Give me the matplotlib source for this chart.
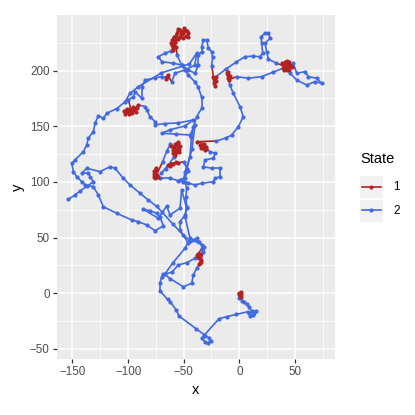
import matplotlib
matplotlib.use("Agg")
import matplotlib.pyplot as plt
from matplotlib.collections import LineCollection
from matplotlib.lines import Line2D
from matplotlib.patches import Rectangle

plt.rcParams['font.family'] = ['Liberation Sans', 'DejaVu Sans']

# Track, split into legs of constant state.
leg_state = [1, 2, 1, 2, 1, 2, 1, 2, 1, 2, 1, 2, 1, 2, 1, 2, 1, 2, 1, 2,
             1, 2, 1, 2, 1, 2, 1, 2]

leg_x = [
    [0, 1.5, 0.5, 1.8, 0.8, -0.5, 1.2],
    [0, 2.5, 4.5, 6.5, 8.7, 11, 14.7, 13, 12, 10, 9, 8, -3, -11.3, -18.2, -31.4, -33.8, -31,
     -28.4, -25.7, -27, -30.5, -38.9, -54.2, -56.6, -62.3, -64.5, -71.3, -71.3, -69.7, -68.3,
     -60.7, -54.8, -47.3, -39.8],
    [-37.5, -36, -38, -35.5, -36.8, -37],
    [-33.8, -33.8, -36, -38.3, -41.3, -45.8, -53.3, -53.3, -48.8, -47.3, -47.9, -47.3, -48.8,
     -54.8, -62.3, -71.3],
    [-74, -76.5, -75, -77, -73.5, -75.5, -76.8, -74.5, -75.8],
    [-69, -65, -62],
    [-59, -56, -54, -57, -60, -55, -58, -56, -61, -53, -57.5, -59.5, -55.5, -54.5, -58.5],
    [-59, -66, -70],
    [-63.8, -62, -60, -57, -54.8, -61.5],
    [-50, -46, -49, -53.3, -46, -39.8, -33.8, -23.4, -21.8, -17.3, -17.3, -24.8, -32.3, -30.8,
     -23.4, -21.8, -26.3],
    [-30, -32.5, -34.5, -31, -33, -35.5, -29.5, -32, -38.3],
    [-20.5, -12, -6.8, -0.9, 3.6, 0.6, -5.4, -8.5],
    [-9.9, -10.5, -9.9, -8.5, -11, -9.2],
    [-2.3, 8.1, 20.1, 30],
    [39.5, 42, 44, 41, 45, 43, 46, 40, 38.5, 42.5, 44.5, 40.5, 47],
    [48.5, 51.6, 59, 62, 69.5, 74, 68, 60.6, 51.6, 45.6],
    [41.5],
    [33, 26.1, 24.6, 23.1, 27.6, 26.1, 23.1, 19.5, 20.1, 21, 18.6, 12, 5.1, -3, -12],
    [-21, -23.4, -21.8, -22.5, -20.5, -22, -23],
    [-24.8, -24, -24.8, -27.8, -29.3, -32.3, -33.8, -33.8, -36.8, -36.8, -39.8, -45.8, -51.8,
     -59.2, -69.7, -72.7, -66.8, -61],
    [-59.2, -60.7, -60.7, -58, -56.2, -53.3, -50.5, -48.8, -46.5, -45.8, -48, -50.3, -53,
     -57.8, -59.5, -61, -59, -57, -55, -52, -49.5, -47, -51.5, -55.5, -58.5, -60, -56.8],
    [-56, -51.8, -45.8, -40, -36.8, -33.8, -33.8, -38.3, -41.3, -43, -44.3, -48.8, -50.3, -47,
     -42.5, -39.8, -44.3, -57, -69.7, -62, -48.8, -41.3, -55, -66.8, -75.7, -75.7, -80.3, -83.2,
     -84.6],
    [-90.7, -95, -100, -103, -98, -93, -97, -101, -104, -99, -95.5, -92, -102, -96.5],
    [-99.7, -95.2, -93.7, -87.7, -87.7, -84.6, -76, -69.7],
    [-65.2, -66, -64.5],
    [-60.7, -57.8, -48.8, -40, -38.3, -45, -70, -90.7, -98.2, -102.7, -110, -119.1, -122.2,
     -126.7, -129.6, -131.2, -135.7, -137.1, -140.2, -147.6, -150.6, -149.1, -146.1, -141.6,
     -138.6, -131.2, -126.7, -122.2, -110.2, -96.7, -90.7, -83.2, -75.7, -68.3, -71.3, -74.2,
     -80.2, -86.3, -72.7, -65.2, -62.3, -53.3, -51.8, -47.3, -48.8, -44.3, -48.8, -60, -67,
     -62, -50.3, -42.8, -41.3, -38.3],
    [-35.3, -34, -36, -34.8],
    [-32.3, -31.4, -38.3, -44, -50.3, -60, -69.7, -74.2, -81.8, -89.2, -98.2, -104.2, -111.7,
     -116.2, -125.2, -137.1, -141.6, -135.7, -134.1, -131.2, -137, -143, -148, -153.6],
]

leg_y = [
    [0, -1, -2.5, -3, -1.8, -0.8, 0.8],
    [-4.5, -6.5, -8.1, -10, -12, -15.9, -15.9, -17.5, -19.5, -20.4, -18, -16.5, -19, -21, -22.8,
     -37.5, -40.4, -43.5, -44.9, -42.6, -40, -38, -31.8, -20.4, -15, -7.5, -5.5, 2.3, 9, 14.9,
     17.1, 18.9, 25.4, 27.5, 31.4],
    [33.5, 31.5, 34.5, 35, 32.5, 35.5],
    [40, 43.4, 46.5, 49.4, 47.9, 44.9, 56.9, 64.3, 70.4, 77.8, 86.8, 94.3, 100.3, 101.2, 103.3,
     103.3],
    [106, 110, 112.5, 104.5, 104.5, 108, 107, 111, 103.5],
    [118, 128, 134],
    [131, 133, 130, 127, 129, 135, 134, 128.5, 132, 132.5, 124.5, 126, 136, 127, 130.5],
    [122, 112, 108],
    [115, 114, 116, 117.5, 117, 116.5],
    [118, 110, 104, 101.8, 99, 97.3, 98.8, 100.3, 103.3, 104.8, 112.3, 112.3, 113.7, 119.8,
     121.3, 125.8, 127.2],
    [130, 133, 130.5, 128.5, 131.5, 133.5, 131.5, 134.5, 136.2],
    [136.8, 139.5, 142.2, 149.7, 158.7, 167.7, 179.7, 187],
    [193.2, 196, 199.1, 195.5, 197.5, 192],
    [194.6, 193.2, 194.6, 198.5],
    [202.2, 205, 203, 207, 208, 201, 205.5, 204.5, 206.5, 209, 200.5, 200.5, 203],
    [206.6, 197.7, 199.1, 194.6, 193.2, 188.7, 190.1, 187.1, 191.6, 197.7],
    [203.5],
    [207, 210.2, 217, 224.6, 229.1, 233.6, 233.6, 230.5, 224.6, 216, 212.6, 213, 212.6, 207.5,
     201.5],
    [194.5, 194.6, 191.6, 188.5, 190.5, 186.5, 192.5],
    [204.6, 212, 217, 220.1, 227.6, 227.6, 221.6, 217, 214.1, 205.1, 197.7, 200.6, 205.1, 206.6,
     208.1, 212.6, 215.6, 218],
    [220.1, 223, 227.6, 226, 233.6, 236.6, 234, 236.6, 234, 230.5, 231, 229.1, 230, 226.1, 222,
     225, 230.5, 231.5, 237.5, 233, 238, 236, 232.5, 228.5, 224, 219, 221],
    [214, 205, 196, 190, 185, 176, 166.2, 158.7, 149.7, 140, 122.7, 109.3, 100.3, 112, 130,
     151.2, 142.2, 143, 143.8, 147, 150.3, 155.7, 153, 152.5, 151.2, 154.2, 158.7, 164.7, 167.7],
    [169.2, 165, 163, 161.5, 166, 163, 164.5, 165.5, 163.5, 161, 167, 166.5, 164, 162],
    [173.7, 176.6, 181.1, 175.2, 185.6, 191.6, 193.5, 194.6],
    [194.6, 192.5, 196],
    [190.1, 197.7, 200.6, 205, 215.6, 206, 198, 185.6, 179.7, 172.1, 166, 161.7, 157.2, 159.5,
     152.7, 145.2, 139.3, 133.2, 127.2, 119.8, 116.8, 109.3, 104.8, 100.3, 97.3, 95.8, 88.3,
     77.8, 71.9, 65.9, 64.3, 61.4, 56.2, 60.5, 68.8, 71.9, 74.2, 75.5, 67.4, 78.4, 70.4, 76.4,
     92.8, 76.4, 68.8, 49.4, 40.4, 27, 17, 13, 5.9, 9, 16.4, 22.5],
    [27, 29.5, 26, 28.5],
    [37.4, 41.9, 47, 47, 52.4, 62.5, 73.3, 78, 83.8, 89.8, 97.3, 103.3, 112.3, 113.7, 109.3,
     112.3, 107.8, 107.8, 104.8, 100.3, 96, 92, 88, 84.5],
]

state_colors = {1: '#B22222', 2: '#4169E1'}
state_labels = ['1', '2']

xs, ys, st = [], [], []
for lx, ly, s in zip(leg_x, leg_y, leg_state):
    xs += lx
    ys += ly
    st += [s] * len(lx)

W = 415.0


def fx(px):
    return px / W


def fy(py):
    return 1 - py / W


fig = plt.figure(figsize=(4.15, 4.15), dpi=100)
ax = fig.add_axes([fx(56.7), fy(359.3), (335 - 56.7) / W, (359.3 - 15) / W])
ax.set_facecolor('#EBEBEB')

# segments take the colour of their starting point
segs = [[(xs[i], ys[i]), (xs[i + 1], ys[i + 1])] for i in range(len(xs) - 1)]
seg_cols = [state_colors[s] for s in st[:-1]]
ax.add_collection(LineCollection(segs, colors=seg_cols, linewidths=1.2, zorder=3))

for s in [2, 1]:
    px = [x for x, k in zip(xs, st) if k == s]
    py = [y for y, k in zip(ys, st) if k == s]
    ax.plot(px, py, 'o', color=state_colors[s], ms=3.0, mew=0, zorder=4)

ax.set_xlim(-164.1, 86.0)
ax.set_ylim(-59.3, 250.0)
ax.set_xticks([-150, -100, -50, 0, 50])
ax.set_yticks([-50, 0, 50, 100, 150, 200])
ax.set_xticks([-125, -75, -25, 25, 75], minor=True)
ax.set_yticks([-25, 25, 75, 125, 175, 225], minor=True)
ax.grid(which='major', color='white', lw=1.1)
ax.grid(which='minor', color='white', lw=0.55)
ax.set_axisbelow(True)
for sp in ax.spines.values():
    sp.set_visible(False)
ax.tick_params(which='major', direction='out', length=2.7, width=0.9, color='#333333',
               labelcolor='#4D4D4D', labelsize=8.4, pad=2.4)
ax.tick_params(which='minor', length=0)
ax.set_xlabel('x', fontsize=10.5, color='black', labelpad=3)
ax.set_ylabel('y', fontsize=10.5, color='black', labelpad=3.5)

# legend
fig.text(fx(360), fy(159), 'State', fontsize=10.5, ha='left', va='center')
for i, s in enumerate([1, 2]):
    top = 176 + i * 23.5
    fig.add_artist(Rectangle((fx(360), fy(top + 22)), 22.5 / W, 22 / W,
                             transform=fig.transFigure, color='#F2F2F2', lw=0))
    cy = fy(top + 11)
    fig.add_artist(Line2D([fx(361.5), fx(381)], [cy, cy], transform=fig.transFigure,
                          color=state_colors[s], lw=1.2))
    fig.add_artist(Line2D([fx(371.2)], [cy], transform=fig.transFigure, marker='o',
                          color=state_colors[s], ms=3.0, mew=0))
    fig.text(fx(393), cy, state_labels[i], fontsize=8.4, ha='left', va='center')

fig.savefig('out.png', dpi=100)
